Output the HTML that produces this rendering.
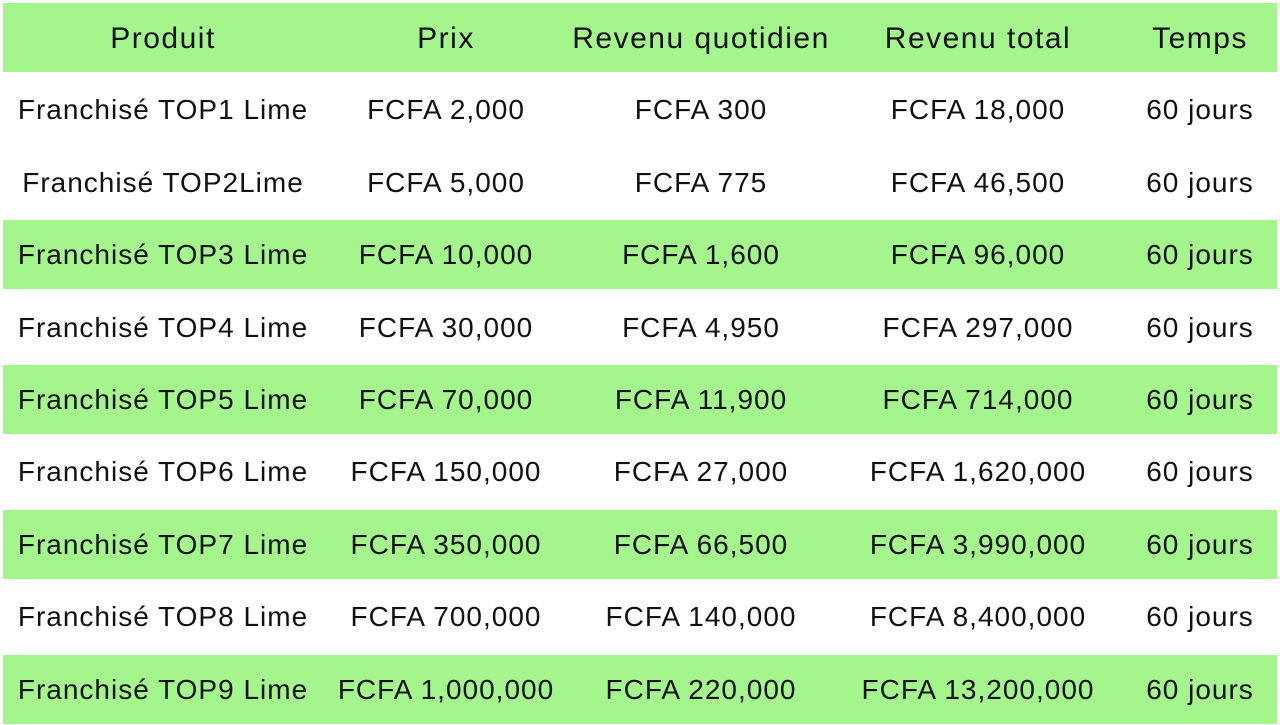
<!DOCTYPE html>
<html><head><meta charset="utf-8"><style>
body{margin:0;width:1280px;height:725px;background:#fff;position:relative;overflow:hidden;font-family:"Liberation Sans",sans-serif;color:#111}
.r{position:absolute;left:3px;width:1274px;height:69px}
.g{background:#a5f58d}
.c{position:absolute;top:0;height:69px;line-height:69px;font-size:28px;letter-spacing:1px;text-align:center;white-space:nowrap;transform:translateX(-50%)}
.h .c{font-size:30px;letter-spacing:1.5px;top:1px}
</style></head><body>
<div id="t"></div>
<script>
const rows=[["Produit","Prix","Revenu quotidien","Revenu total","Temps"],
["Franchisé TOP1 Lime","FCFA 2,000","FCFA 300","FCFA 18,000","60 jours"],
["Franchisé TOP2Lime","FCFA 5,000","FCFA 775","FCFA 46,500","60 jours"],
["Franchisé TOP3 Lime","FCFA 10,000","FCFA 1,600","FCFA 96,000","60 jours"],
["Franchisé TOP4 Lime","FCFA 30,000","FCFA 4,950","FCFA 297,000","60 jours"],
["Franchisé TOP5 Lime","FCFA 70,000","FCFA 11,900","FCFA 714,000","60 jours"],
["Franchisé TOP6 Lime","FCFA 150,000","FCFA 27,000","FCFA 1,620,000","60 jours"],
["Franchisé TOP7 Lime","FCFA 350,000","FCFA 66,500","FCFA 3,990,000","60 jours"],
["Franchisé TOP8 Lime","FCFA 700,000","FCFA 140,000","FCFA 8,400,000","60 jours"],
["Franchisé TOP9 Lime","FCFA 1,000,000","FCFA 220,000","FCFA 13,200,000","60 jours"]];
const cx=[163,446,701,978,1200];const green=[0,3,5,7,9];
let h="";
rows.forEach((r,i)=>{h+=`<div class="r${green.includes(i)?' g':''}${i==0?' h':''}" style="top:${3+i*72.4}px">`;
r.forEach((t,j)=>h+=`<div class="c" style="left:${cx[j]-3}px">${t}</div>`);h+="</div>";});
document.getElementById("t").innerHTML=h;
</script>
</body></html>
